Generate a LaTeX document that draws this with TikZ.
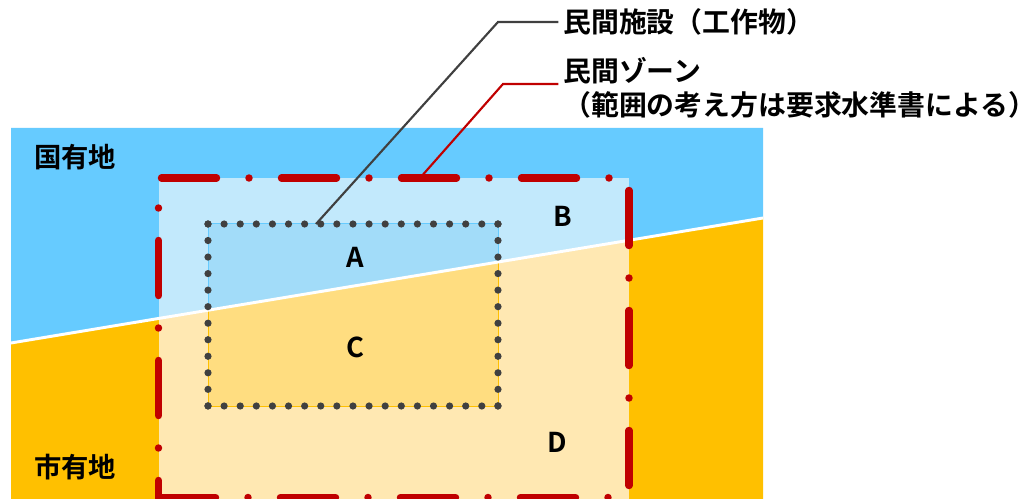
\documentclass[tikz,border=0pt]{standalone}
\usepackage{fontspec}
\newfontfamily\jp{Noto Sans CJK JP}[BoldFont={Noto Sans CJK JP Bold}]
\definecolor{landBlue}{HTML}{66CBFF}
\definecolor{landOrange}{HTML}{FFC000}
\definecolor{zoneBlue}{HTML}{C2E9FC}
\definecolor{zoneOrange}{HTML}{FFE8B2}
\definecolor{facBlue}{HTML}{A2DCF9}
\definecolor{facOrange}{HTML}{FFDD80}
\definecolor{zred}{HTML}{C00000}
\definecolor{dotgray}{HTML}{404040}
\begin{document}
\begin{tikzpicture}[x=0.75pt,y=-0.75pt,
  zoneline/.style={draw=zred, line width=5.6pt, line cap=round,
    dash pattern=on 41.25pt off 24.375pt on 0pt off 24.375pt},
  dotline/.style={draw=dotgray, line width=5.4pt, line cap=round},
  leader/.style={line width=1.6pt},
  lbl/.style={font=\jp\bfseries\fontsize{20.5pt}{25.5pt}\selectfont, inner sep=0pt, text=black},
  callout/.style={font=\jp\bfseries\fontsize{20.9pt}{25.5pt}\selectfont, inner sep=0pt, text=black},
  boundary/.style={draw=white, line width=2.2pt}
]
\useasboundingbox (0,0) rectangle (1036,499);
\clip (0,0) rectangle (1036,499);
% land
\fill[landBlue] (11,128) -- (763,128) -- (763,218) -- (11,343) -- cycle;
\fill[landOrange] (11,343) -- (763,218) -- (763,520) -- (11,520) -- cycle;
% zone and facility, upper half
\begin{scope}
  \clip (11,128) -- (763,128) -- (763,218) -- (11,343) -- cycle;
  \fill[zoneBlue] (158.5,178) rectangle (629,520);
  \filldraw[fill=facBlue, draw=landBlue, line width=0.75pt] (208,224) rectangle (498,406);
\end{scope}
% zone and facility, lower half
\begin{scope}
  \clip (11,343) -- (763,218) -- (763,520) -- (11,520) -- cycle;
  \fill[zoneOrange] (158.5,178) rectangle (629,520);
  \filldraw[fill=facOrange, draw=landOrange, line width=0.75pt] (208,224) rectangle (498,406);
\end{scope}
% boundary between lands
\coordinate (bL) at (11,343);
\coordinate (bR) at (763,218);
\draw[boundary] (bL) -- (bR);
% facility outline (dotted)
\draw[dotline, dash pattern=on 0pt off 12.08pt] (208,224) -- (498,224);
\draw[dotline, dash pattern=on 0pt off 12.08pt] (208,406) -- (498,406);
\draw[dotline, dash pattern=on 0pt off 12.40pt] (208,224) -- (208,406);
\draw[dotline, dash pattern=on 0pt off 12.40pt] (498,224) -- (498,406);
% zone outline (dash-dot)
\draw[zoneline] (158.5,535.5) -- (158.5,178);
\draw[zoneline] (161.5,178) -- (629,178) -- (629,560);
\draw[zoneline] (160.5,497.5) -- (629,497.5);
% labels
\node[lbl, anchor=west] (kuni) at (34,157) {国有地};
\node[lbl, anchor=west] (shi) at (34,467) {市有地};
\node[lbl] (A) at (355,257) {A};
\node[lbl] (B) at (563,216) {B};
\node[lbl] (C) at (355,347) {C};
\node[lbl] (D) at (557,442) {D};
\node[callout, anchor=west] (lblFac) at (563,22) {民間施設（工作物）};
\node[callout, anchor=west, align=left] (lblZone) at (563,88) {民間ゾーン\\（範囲の考え方は要求水準書による）};
% leaders
\coordinate (facTop) at (316,224);
\coordinate (fb) at (498,22);
\draw[leader, draw=dotgray] (facTop) -- (fb) -- ([xshift=-3.5pt]fb -| lblFac.west);
\coordinate (zoneTop) at (420,178);
\coordinate (zb) at (503,84);
\draw[leader, draw=zred] (zoneTop) -- (zb) -- ([xshift=-3.5pt]zb -| lblZone.west);
\end{tikzpicture}
\end{document}
